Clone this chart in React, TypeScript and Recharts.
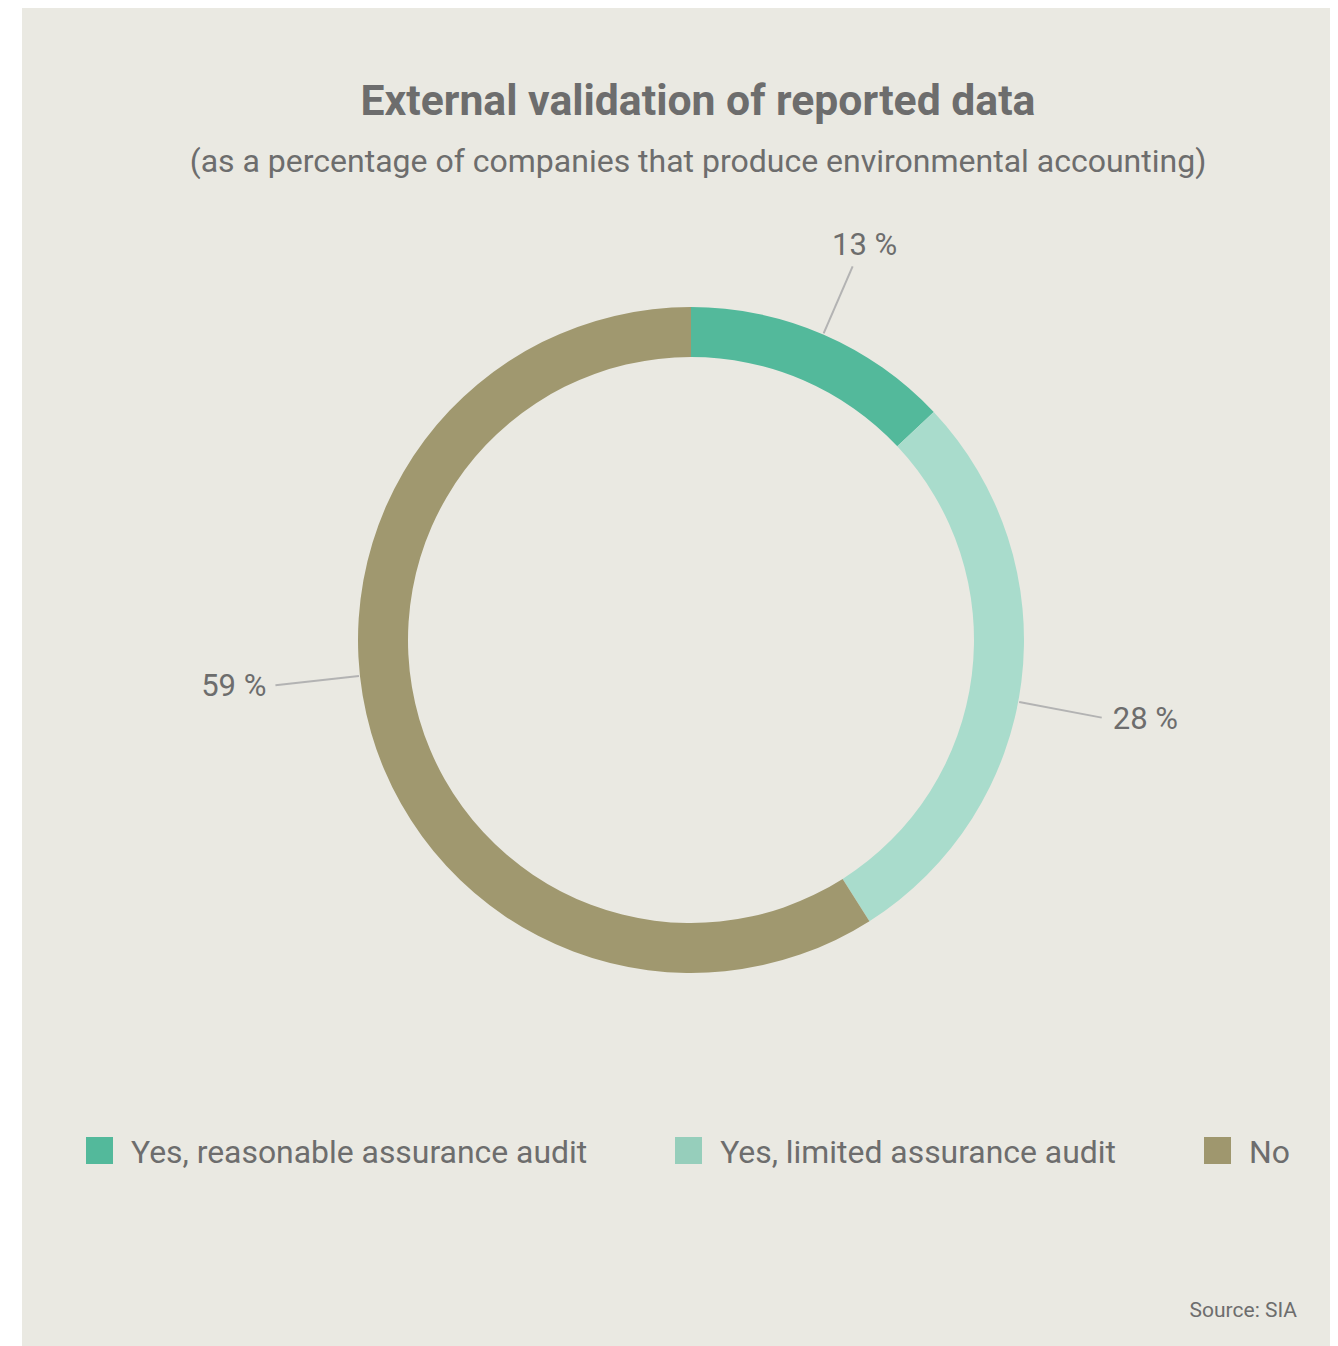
import React from 'react';
import { PieChart, Pie, Cell } from 'recharts';

const categories = [
  'Yes, reasonable assurance audit',
  'Yes, limited assurance audit',
  'No',
];
const shares = [13, 28, 59];
const sliceColors = ['#53b99b', '#a9dccc', '#a0986f'];
const legendColors = ['#53b99b', '#96cebb', '#9f976e'];

const data = categories.map((name, i) => ({ name, value: shares[i] }));

const RADIAN = Math.PI / 180;
const TEXT = '#6d6d6d';
// labels in the original sit a bit off the slice middle
const labelShift = [0, -3.5, -10];

const renderLabel = (props: any) => {
  const { cx, cy, midAngle, outerRadius, value, index } = props;
  const a = (midAngle + labelShift[index]) * RADIAN;
  const cos = Math.cos(-a);
  const sin = Math.sin(-a);
  const top = sin < -0.85;
  const r1 = outerRadius + 1;
  const r2 = outerRadius + (top ? 74 : 85);
  const sx = cx + r1 * cos;
  const sy = cy + r1 * sin;
  const ex = cx + r2 * cos;
  const ey = cy + r2 * sin;
  return (
    <g>
      <line x1={sx} y1={sy} x2={ex} y2={ey} stroke="#b3b3b3" strokeWidth={2} />
      {top ? (
        <text x={ex + 12} y={ey - 11} textAnchor="middle" fill={TEXT} fontSize={31}>
          {`${value} %`}
        </text>
      ) : (
        <text
          x={ex + (cos > 0 ? 11 : -9)}
          y={ey}
          dy={11}
          textAnchor={cos > 0 ? 'start' : 'end'}
          fill={TEXT}
          fontSize={31}>
          {`${value} %`}
        </text>
      )}
    </g>
  );
};

const App: React.FC = () => {
  return (
    <div
      style={{
        position: 'relative',
        marginLeft: 14,
        width: 1316,
        height: 1338,
        background: '#eae9e2',
        fontFamily: 'Roboto, sans-serif',
        color: TEXT,
      }}>
      <div
        style={{
          position: 'absolute',
          top: 71,
          left: 0,
          width: 1352,
          textAlign: 'center',
          fontSize: 42.7,
          lineHeight: '43px',
          fontWeight: 700,
        }}>
        External validation of reported data
      </div>
      <div
        style={{
          position: 'absolute',
          top: 137,
          left: 0,
          width: 1352,
          textAlign: 'center',
          fontSize: 32,
          lineHeight: '32px',
        }}>
        (as a percentage of companies that produce environmental accounting)
      </div>
      <div style={{ position: 'absolute', top: 0, left: 0 }}>
        <PieChart width={1316} height={1100}>
          <Pie
            data={data}
            dataKey="value"
            nameKey="name"
            cx={664}
            cy={627}
            innerRadius={283}
            outerRadius={333}
            startAngle={90}
            endAngle={-270}
            stroke="none"
            labelLine={false}
            label={renderLabel}
            isAnimationActive={false}>
            {data.map((d, i) => (
              <Cell key={d.name} fill={sliceColors[i]} />
            ))}
          </Pie>
        </PieChart>
      </div>
      <div
        style={{
          position: 'absolute',
          top: 1129,
          left: 64,
          display: 'flex',
          gap: 88,
          fontSize: 31.9,
          lineHeight: '27px',
        }}>
        {categories.map((c, i) => (
          <div key={c} style={{ display: 'flex', alignItems: 'center' }}>
            <span
              style={{
                display: 'inline-block',
                width: 27,
                height: 27,
                background: legendColors[i],
                marginRight: 18,
              }}
            />
            <span style={{ position: 'relative', top: 2 }}>{c}</span>
          </div>
        ))}
      </div>
      <div
        style={{
          position: 'absolute',
          top: 1292,
          right: 41,
          fontSize: 21,
          lineHeight: '21px',
        }}>
        Source: SIA
      </div>
    </div>
  );
};

export default App;
